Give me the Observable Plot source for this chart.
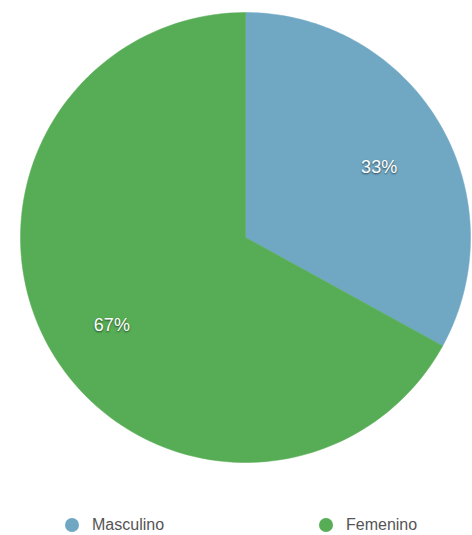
<!DOCTYPE html>
<html>
<head>
<meta charset="utf-8">
<script src="https://cdn.jsdelivr.net/npm/d3@7"></script>
<script src="https://cdn.jsdelivr.net/npm/@observablehq/plot@0.6"></script>
<style>
  body { margin: 0; background: #fff; font-family: "Liberation Sans", Arial, sans-serif; }
  #chart svg g[aria-label="text"] text { text-shadow: 0 1px 2px rgba(0,0,0,0.6); }
  .legend { position: relative; height: 55px; width: 472px; overflow: hidden; }
  .item { position: absolute; top: 36px; display: flex; align-items: center; font-size: 16px; color: #555; line-height: 18px; }
  .sw { width: 14px; height: 14px; border-radius: 50%; margin-right: 13px; }
</style>
</head>
<body>
<div id="chart"></div>
<div class="legend" id="legend"></div>
<script>
const categories = ["Masculino", "Femenino"];
const values = [33, 67];
const labels = ["33%", "67%"];
const colors = ["#70a8c4", "#56ad55"];

const total = d3.sum(values);
const polys = [];
const texts = [];
let start = 0;
categories.forEach((c, i) => {
  const a0 = start / total * 2 * Math.PI;
  const a1 = (start + values[i]) / total * 2 * Math.PI;
  const n = 120;
  polys.push({cat: c, x: 0, y: 0});
  for (let k = 0; k <= n; k++) {
    const a = a0 + (a1 - a0) * k / n;
    polys.push({cat: c, x: Math.sin(a), y: Math.cos(a)});
  }
  polys.push({cat: c, x: 0, y: 0});
  const am = (a0 + a1) / 2;
  texts.push({cat: c, label: labels[i], x: Math.sin(am) * 0.69, y: Math.cos(am) * 0.69});
  start += values[i];
});

const plot = Plot.plot({
  width: 472,
  height: 480,
  marginLeft: 20,
  marginRight: 2,
  marginTop: 12,
  marginBottom: 18,
  style: {fontFamily: "'Liberation Sans', Arial, sans-serif"},
  x: {domain: [-1, 1], axis: null},
  y: {domain: [-1, 1], axis: null},
  color: {domain: categories, range: colors},
  marks: [
    Plot.line(polys, {x: "x", y: "y", z: "cat", fill: "cat", stroke: "cat", strokeWidth: 0.5, curve: "linear"}),
    Plot.text(texts, {x: "x", y: "y", text: "label", fill: "white", fontSize: 18, dy: 9})
  ]
});
document.getElementById("chart").appendChild(plot);

const legend = document.getElementById("legend");
const lefts = [65, 319];
categories.forEach((c, i) => {
  const it = document.createElement("div");
  it.className = "item";
  it.style.left = lefts[i] + "px";
  it.innerHTML = `<span class="sw" style="background:${colors[i]}"></span><span>${c}</span>`;
  legend.appendChild(it);
});
</script>
</body>
</html>
